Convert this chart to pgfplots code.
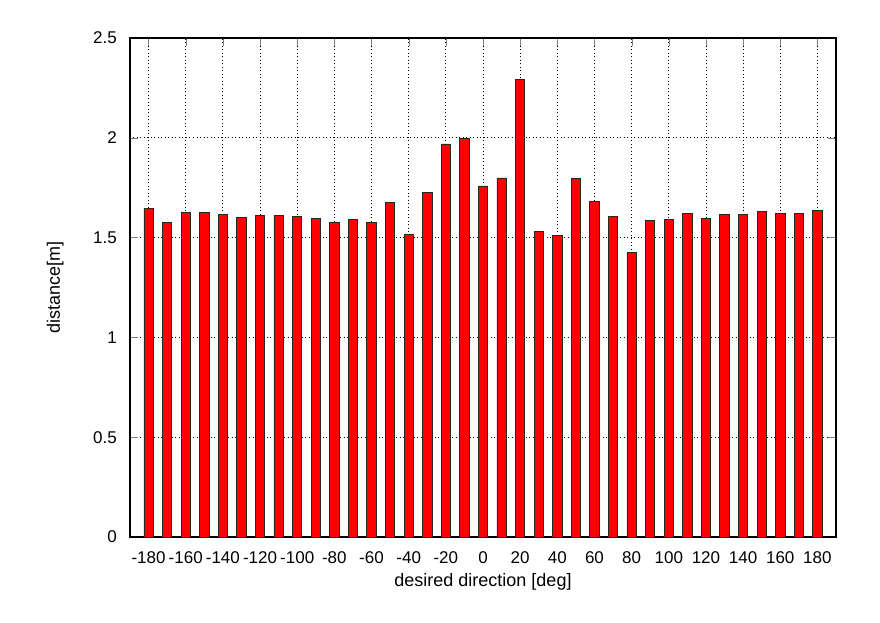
\documentclass[border=0pt]{standalone}
\usepackage{pgfplots}
\pgfplotsset{compat=1.18}
\usepackage{fontspec}
\setmainfont{Liberation Sans}

\pgfplotstableread{
dir dist
-180 1.648
-170 1.578
-160 1.628
-150 1.628
-140 1.618
-130 1.603
-120 1.611
-110 1.613
-100 1.608
-90 1.595
-80 1.578
-70 1.591
-60 1.575
-50 1.678
-40 1.518
-30 1.724
-20 1.969
-10 1.995
0 1.759
10 1.799
20 2.292
30 1.531
40 1.513
50 1.795
60 1.683
70 1.605
80 1.426
90 1.586
100 1.593
110 1.621
120 1.598
130 1.618
140 1.616
150 1.633
160 1.621
170 1.623
180 1.635
}\dirdata

\newcommand{\tickfont}{\fontsize{17}{20}\selectfont}

\begin{document}
\begin{tikzpicture}
  \begin{axis}[
    at={(0,0)}, anchor=south west,
    scale only axis,
    width=706pt, height=499pt,
    xmin=-190, xmax=190,
    ymin=0, ymax=2.5,
    enlargelimits=false,
    xtick={-180,-160,...,180},
    ytick={0,0.5,...,2.5},
    tick align=inside,
    xtick pos=both, ytick pos=both,
    major tick length=8pt,
    axis line style={line width=1.2pt},
    grid=major,
    major grid style={black, line width=0.8pt, dash pattern=on 1pt off 2.5pt},
    xticklabel={\tickfont\pgfmathprintnumber[assume math mode=true]{\tick}},
    yticklabel={\tickfont\pgfmathprintnumber[assume math mode=true]{\tick}},
    label style={font=\fontsize{18}{21}\selectfont},
    xticklabel style={anchor=base, yshift=-26pt},
    yticklabel style={anchor=east, inner sep=0pt, xshift=-13pt},
    xlabel={desired direction [deg]},
    ylabel={distance[m]},
    xlabel style={at={(axis description cs:0.5,-0.0896)}, anchor=center},
    ylabel style={at={(axis description cs:-0.106,0.5)}, anchor=center},
  ]
    \addplot[ybar, bar width=5, fill=red, draw=black!85, line width=0.8pt]
      table[x=dir, y=dist] {\dirdata};
  \end{axis}
  \pgfresetboundingbox
  \path (-130pt,-86pt) rectangle (750pt,537pt);
\end{tikzpicture}
\end{document}
